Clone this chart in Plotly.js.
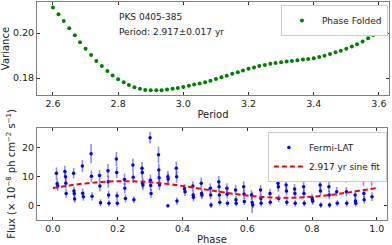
<!DOCTYPE html>
<html>
<head>
<meta charset="utf-8">
<script src="https://cdn.plot.ly/plotly-3.0.1.min.js"></script>
<style>html,body{margin:0;padding:0;background:#fff;}#chart{width:392px;height:245px;}</style>
</head>
<body>
<div id="chart"></div>
<script>
// ---- Top panel: variance vs trial period ----
const periods = [2.600,2.617,2.633,2.650,2.667,2.683,2.700,2.717,2.733,2.750,
  2.767,2.783,2.800,2.817,2.833,2.850,2.867,2.883,2.900,2.917,
  2.933,2.950,2.967,2.983,3.000,3.017,3.033,3.050,3.067,3.083,
  3.100,3.117,3.133,3.150,3.167,3.183,3.200,3.217,3.233,3.250,
  3.267,3.283,3.300,3.317,3.333,3.350,3.367,3.383,3.400,3.417,
  3.433,3.450,3.467,3.483,3.500,3.517,3.533,3.550,3.567,3.583];
const variance = [0.2114,0.2083,0.2053,0.2021,0.1990,0.1959,0.1930,0.1902,0.1876,0.1853,
  0.1831,0.1811,0.1794,0.1781,0.1769,0.1759,0.1752,0.1747,0.1746,0.1746,
  0.1746,0.1749,0.1752,0.1756,0.1760,0.1766,0.1771,0.1775,0.1781,0.1788,
  0.1796,0.1803,0.1810,0.1819,0.1826,0.1833,0.1841,0.1847,0.1853,0.1858,
  0.1863,0.1867,0.1870,0.1873,0.1876,0.1879,0.1882,0.1885,0.1888,0.1893,
  0.1899,0.1907,0.1914,0.1921,0.1930,0.1940,0.1950,0.1962,0.1977,0.1991];

// ---- Bottom panel: phase-folded Fermi-LAT fluxes ----
const phase = [0.011,0.013,0.015, 0.037,0.039,0.040,0.041, 0.064,0.065,0.066,0.067,
  0.091,0.092,0.094, 0.118,0.119,0.121, 0.144,0.145,0.147, 0.170,0.171,0.172,0.173,
  0.196,0.197,0.198,0.199, 0.221,0.222,0.224, 0.247,0.248,0.250, 0.275,0.276,0.277,0.278,
  0.300,0.301,0.302,0.303, 0.326,0.327,0.328,0.329, 0.355,0.356,0.355, 0.381,0.382,0.383,
  0.406,0.408, 0.432,0.433,0.434, 0.458,0.459,0.460, 0.486,0.487,0.488,
  0.512,0.513,0.514,0.515, 0.537,0.538,0.539, 0.564,0.565,0.566, 0.589,0.590,0.591,
  0.613,0.615,0.617, 0.641,0.642,0.643, 0.669,0.670,0.671, 0.694,0.695,0.696,0.697,
  0.720,0.721,0.722, 0.746,0.747,0.748, 0.774,0.775,0.776, 0.800,0.801,0.802,
  0.825,0.826,0.827, 0.852,0.853,0.854, 0.876,0.878, 0.905,0.906,0.907,
  0.933,0.934,0.935, 0.959,0.960,0.961, 0.983,0.984,0.985];
const flux = [11.2,7.6,6.8, 11.8,10.0,7.8,4.3, 11.2,5.1,4.3,2.4,
  13.7,4.4,3.2, 17.9,10.2,3.3, 10.4,6.8,1.1, 12.1,8.3,3.8,0.9,
  16.1,11.5,3.5,0.9, 9.1,6.1,2.6, 14.0,9.8,2.1, 12.9,11.5,7.8,7.2,
  23.4,8.8,7.0,4.3, 17.5,12.3,9.7,7.2, 10.0,9.2,0.1, 12.9,10.0,1.7,
  5.9,4.9, 6.8,3.8,3.0, 7.8,4.3,3.8, 6.1,3.8,0.3,
  8.3,6.6,3.8,1.3, 6.1,4.0,0.9, 5.5,2.1,0.9, 6.6,4.1,1.5,
  3.8,1.2,0.3, 5.5,2.6,0.9, 12.3,4.3,1.3, 9.5,7.8,6.6,2.6,
  7.2,5.1,1.3, 5.8,4.3,0.9, 6.6,4.3,0.9, 2.8,2.1,1.6,
  7.2,5.1,0.3, 6.6,3.8,0.3, 4.9,0.9, 10.0,4.9,0.9,
  3.8,1.7,0.9, 8.9,4.3,2.1, 12.1,8.8,3.2];
const fluxErr = [2.0,1.8,1.6, 2.0,1.9,1.8,1.5, 1.8,1.5,1.4,1.3,
  2.0,1.6,1.4, 3.3,2.0,1.4, 2.0,1.8,1.2, 2.3,2.0,1.4,1.1,
  2.4,2.0,1.5,1.1, 2.0,1.8,1.4, 2.2,2.0,1.2, 2.2,2.1,1.8,1.8,
  2.0,2.0,1.8,1.5, 2.8,2.2,2.0,1.8, 2.0,1.9,0.5, 2.3,2.0,1.3,
  1.6,1.5, 1.7,1.5,1.4, 1.9,1.5,1.4, 1.7,1.5,1.0,
  2.0,1.8,1.5,1.2, 1.7,1.5,1.1, 1.7,1.3,1.1, 1.8,1.5,1.2,
  1.6,3.6,1.0, 1.7,1.4,1.1, 1.8,1.5,1.2, 2.3,2.0,1.8,1.3,
  1.9,1.6,1.2, 1.7,1.5,1.1, 1.8,1.5,1.1, 1.4,1.3,1.2,
  1.9,1.6,1.0, 1.8,1.5,1.0, 1.6,1.1, 2.0,1.6,1.1,
  1.6,1.3,1.1, 2.0,1.6,1.3, 2.5,2.1,1.5];

// ---- Best-fit sinusoid (2.917 yr), sampled ----
const fitPhase = [0.00,0.05,0.10,0.15,0.20,0.25,0.30,0.35,0.40,0.45,0.50,
  0.55,0.60,0.65,0.70,0.75,0.80,0.85,0.90,0.95,1.00];
const fitFlux = [6.18,7.02,7.73,8.23,8.48,8.45,8.15,7.60,6.86,6.01,5.12,
  4.28,3.57,3.07,2.82,2.85,3.15,3.70,4.44,5.29,6.18];

const sourceName = 'PKS 0405-385';
const periodText = 'Period: 2.917\u00b10.017 yr';

const FONT = 'DejaVu Sans, sans-serif';
const axisCommon = {
  showline: true, linecolor: '#808080', linewidth: 1, mirror: 'allticks',
  ticks: 'inside', ticklen: 3, tickcolor: '#333', tickwidth: 1,
  showgrid: false, zeroline: false,
  tickfont: {family: FONT, size: 9.5, color: '#222'}
};

const traces = [
  {x: periods, y: variance, type: 'scatter', mode: 'markers', name: 'Phase Folded',
   marker: {color: '#008000', size: 4}, xaxis: 'x', yaxis: 'y', legend: 'legend'},
  {x: phase, y: flux, type: 'scatter', mode: 'markers', name: 'Fermi-LAT',
   marker: {color: '#0000ff', size: 3.5},
   error_y: {type: 'data', array: fluxErr, visible: true, color: 'rgba(0,0,255,0.45)', thickness: 1.6, width: 0},
   xaxis: 'x2', yaxis: 'y2', legend: 'legend2'},
  {x: fitPhase, y: fitFlux, type: 'scatter', mode: 'lines', name: '2.917 yr sine fit',
   line: {color: '#ff0000', width: 2, dash: '5px,3px', shape: 'spline'},
   xaxis: 'x2', yaxis: 'y2', legend: 'legend2'}
];

const layout = {
  width: 392, height: 245,
  margin: {l: 37, r: 3, t: 2, b: 25, pad: 0},
  paper_bgcolor: '#fff', plot_bgcolor: '#fff',
  font: {family: FONT, size: 10, color: '#222'},
  xaxis: Object.assign({}, axisCommon, {domain: [0, 1], anchor: 'y', range: [2.551, 3.631],
    tick0: 2.6, dtick: 0.2, tickformat: '.1f',
    title: {text: 'Period', font: {family: FONT, size: 10}, standoff: 2}}),
  yaxis: Object.assign({}, axisCommon, {domain: [0.573, 1], anchor: 'x', range: [0.1724, 0.2138],
    tickvals: [0.18, 0.20], tickformat: '.2f',
    title: {text: 'Variance', font: {family: FONT, size: 10}, standoff: 4}}),
  xaxis2: Object.assign({}, axisCommon, {domain: [0, 0.994], anchor: 'y2', range: [-0.049, 1.031],
    tick0: 0, dtick: 0.2, tickformat: '.1f',
    title: {text: 'Phase', font: {family: FONT, size: 10}, standoff: 2}}),
  yaxis2: Object.assign({}, axisCommon, {domain: [0, 0.422], anchor: 'x2', range: [-4.8, 26.7],
    tickvals: [0, 10, 20],
    title: {text: 'Flux (\u00d7 10<sup>\u22128</sup> ph cm<sup>\u22122</sup> s<sup>\u22121</sup>)', font: {family: FONT, size: 10}, standoff: 4}}),
  legend: {x: 0.997, xanchor: 'right', y: 0.986, yanchor: 'top', bgcolor: '#fff',
    bordercolor: '#cccccc', borderwidth: 1, font: {family: FONT, size: 9}, itemwidth: 30},
  legend2: {x: 0.994, xanchor: 'right', y: 0.404, yanchor: 'top', bgcolor: '#fff',
    bordercolor: '#cccccc', borderwidth: 1, font: {family: FONT, size: 9}, itemwidth: 30},
  showlegend: true,
  annotations: [
    {text: sourceName, xref: 'paper', yref: 'paper', x: 0.227, y: 0.931, xanchor: 'left', yanchor: 'middle',
     showarrow: false, font: {family: FONT, size: 9, color: '#222'}},
    {text: periodText, xref: 'paper', yref: 'paper', x: 0.227, y: 0.862, xanchor: 'left', yanchor: 'middle',
     showarrow: false, font: {family: FONT, size: 9, color: '#222'}}
  ]
};

Plotly.newPlot('chart', traces, layout, {staticPlot: true, displayModeBar: false});
</script>
</body>
</html>
